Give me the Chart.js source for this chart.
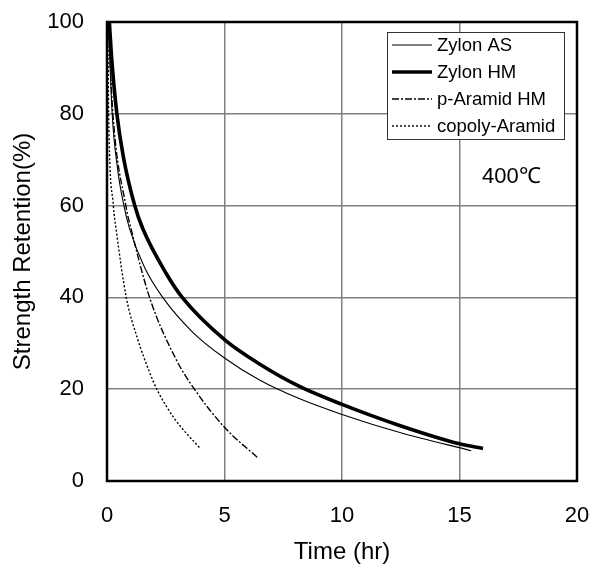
<!DOCTYPE html>
<html>
<head>
<meta charset="utf-8">
<script src="https://cdn.jsdelivr.net/npm/chart.js@4.4.0/dist/chart.umd.min.js"></script>
<style>
  html, body { margin: 0; padding: 0; background: #fff; }
  #wrap { width: 595px; height: 572px; }
</style>
</head>
<body>
<div id="wrap"><canvas id="grafica" width="595" height="572"></canvas></div>
<script>
// tick labels
const xTicks = [0, 5, 10, 15, 20];
const yTicks = [0, 20, 40, 60, 80, 100];

// series names (legend order)
const seriesNames = ["Zylon AS", "Zylon HM", "p-Aramid HM", "copoly-Aramid"];

// values: time (hr) and strength retention (%)
const zylonAsTime = [0.06, 0.22, 0.45, 0.72, 0.96, 1.6, 2.37, 3.65, 5, 6.49, 8.2, 10, 12.5, 15.5];
const zylonAsRet  = [100, 80, 68, 60, 55, 46.5, 40, 32.4, 26.8, 22, 17.9, 14.5, 10.5, 6.6];

const zylonHmTime = [0.1, 0.2, 0.42, 0.7, 1.18, 1.52, 2.52, 3.2, 5, 6.49, 8.19, 10, 12.45, 15, 16];
const zylonHmRet  = [100, 92, 80, 70.5, 60, 55, 45.2, 40, 30.8, 25.5, 20.6, 16.7, 12.1, 8.1, 7.1];

const pAramidTime = [0.05, 0.25, 0.8, 1.03, 1.81, 2.94, 3.72, 5, 6.45];
const pAramidRet  = [100, 80, 60, 54.8, 40, 26.5, 20, 11.7, 4.9];

const copolyTime = [0.03, 0.07, 0.27, 0.39, 0.82, 1.3, 1.81, 2.12, 2.87, 3.98];
const copolyRet  = [100, 80, 60, 54.8, 40, 31, 23.7, 20, 13.6, 7];

const FONT = "'Liberation Sans', Arial, Helvetica, sans-serif";

function pares(xs, ys) { return xs.map((x, i) => ({ x, y: ys[i] })) }

function serie(label, xs, ys, width, dash) {
  return {
    label,
    data: pares(xs, ys),
    showLine: true,
    borderColor: "#000",
    backgroundColor: "#000",
    borderWidth: width,
    borderDash: dash,
    pointRadius: 0,
    cubicInterpolationMode: "monotone",
    fill: false
  };
}

// no extra room for the edge tick labels, the layout padding decides the plot box
function sinRelleno(s) {
  s.paddingTop = 0; s.paddingBottom = 0;
  s.paddingLeft = 0; s.paddingRight = 0;
}

const marcoYLeyenda = {
  id: "marcoYLeyenda",
  afterDraw(c) {
    const ctx = c.ctx;
    const a = c.chartArea;
    ctx.save();
    // frame
    ctx.strokeStyle = "#000";
    ctx.lineWidth = 2.5;
    ctx.setLineDash([]);
    ctx.strokeRect(a.left, a.top, a.right - a.left, a.bottom - a.top);

    // legend box
    const bx = 387, by = 32, bw = 177, bh = 107;
    ctx.fillStyle = "#fff";
    ctx.fillRect(bx, by, bw, bh);
    ctx.strokeStyle = "#333";
    ctx.lineWidth = 1;
    ctx.strokeRect(bx + 0.5, by + 0.5, bw, bh);

    ctx.font = `18.5px ${FONT}`;
    ctx.textBaseline = "middle";
    ctx.textAlign = "left";
    c.data.datasets.forEach((ds, i) => {
      const y = 45 + i * 27;
      ctx.strokeStyle = "#000";
      ctx.lineWidth = ds.borderWidth;
      ctx.setLineDash(ds.borderDash || []);
      ctx.beginPath();
      ctx.moveTo(392, y);
      ctx.lineTo(432, y);
      ctx.stroke();
      ctx.setLineDash([]);
      ctx.fillStyle = "#000";
      ctx.fillText(ds.label, 437, y + 1);
    });

    // temperature note
    ctx.font = `22px ${FONT}`;
    ctx.textBaseline = "alphabetic";
    ctx.fillText("400\u2103", 482, 183);
    ctx.restore();
  }
};

new Chart(document.getElementById("grafica"), {
  type: "scatter",
  data: {
    datasets: [
      serie(seriesNames[0], zylonAsTime, zylonAsRet, 1.1, []),
      serie(seriesNames[1], zylonHmTime, zylonHmRet, 3.6, []),
      serie(seriesNames[2], pAramidTime, pAramidRet, 1.4, [7, 2, 2, 2]),
      serie(seriesNames[3], copolyTime, copolyRet, 1.4, [2, 2])
    ]
  },
  options: {
    responsive: false,
    devicePixelRatio: 1,
    animation: false,
    layout: { padding: { top: 22, right: 18, left: 0, bottom: 0 } },
    plugins: {
      legend: { display: false },
      tooltip: { enabled: false }
    },
    scales: {
      x: {
        type: "linear",
        min: 0, max: 20,
        afterBuildTicks: s => { s.ticks = xTicks.map(v => ({ value: v })) },
        afterFit: s => { s.height = 91; sinRelleno(s) },
        grid: { color: "#808080", lineWidth: 1.5, drawTicks: false },
        border: { display: false },
        ticks: { color: "#000", padding: 22, font: { family: FONT, size: 22 } },
        title: { display: true, text: "Time (hr)", color: "#000", padding: { top: 0, bottom: 5 }, font: { family: FONT, size: 24 } }
      },
      y: {
        type: "linear",
        min: 0, max: 100,
        afterBuildTicks: s => { s.ticks = yTicks.map(v => ({ value: v })) },
        afterFit: s => { s.width = 107; sinRelleno(s) },
        grid: { color: "#808080", lineWidth: 1.5, drawTicks: false },
        border: { display: false },
        ticks: { color: "#000", padding: 23, font: { family: FONT, size: 22 } },
        title: { display: true, text: "Strength Retention(%)", color: "#000", padding: { top: 9, bottom: 0 }, font: { family: FONT, size: 24 } }
      }
    }
  },
  plugins: [marcoYLeyenda]
});
</script>
</body>
</html>
